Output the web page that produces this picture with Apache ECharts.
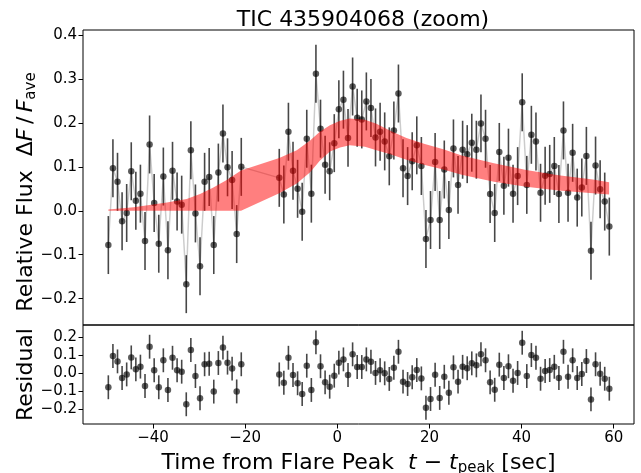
<!DOCTYPE html>
<html><head><meta charset="utf-8">
<script src="https://cdn.jsdelivr.net/npm/echarts@6/dist/echarts.min.js"></script>
<style>html,body{margin:0;padding:0;background:#fff}#c{width:641px;height:473px}</style>
</head><body><div id="c"></div>
<script>
// ---- data ----
const seg1Start = -49.7, seg2Start = -12.6, cadence = 0.995; // sample times (sec)
const flux1 = [-0.078, 0.097, 0.066, -0.024, -0.005, 0.090, 0.023, 0.039, -0.069, 0.151, 0.018, -0.075, 0.078, -0.090, 0.091, 0.021, 0.014, -0.167, 0.138, -0.006, -0.126, 0.066, 0.077, -0.078, 0.087, 0.176, 0.099, 0.070, -0.053, 0.100];
const flux2 = [0.075, 0.037, 0.180, 0.091, 0.050, -0.002, 0.164, 0.039, 0.312, 0.187, 0.105, 0.090, 0.154, 0.231, 0.253, 0.166, 0.283, 0.212, 0.208, 0.249, 0.234, 0.167, 0.180, 0.158, 0.124, 0.183, 0.267, 0.097, 0.079, 0.113, 0.149, 0.102, -0.064, -0.021, 0.111, -0.021, 0.094, 0.002, 0.142, 0.059, 0.139, 0.129, 0.155, 0.139, 0.199, 0.164, 0.038, -0.005, 0.134, 0.057, 0.121, 0.039, 0.079, 0.247, 0.059, 0.173, 0.158, 0.041, 0.080, 0.084, 0.102, 0.038, 0.183, 0.041, 0.132, 0.030, 0.053, 0.125, -0.091, 0.103, 0.049, 0.021, -0.036];
const resid1 = [-0.077, 0.096, 0.066, -0.026, -0.006, 0.088, 0.022, 0.037, -0.070, 0.147, 0.017, -0.077, 0.072, -0.092, 0.086, 0.017, 0.009, -0.171, 0.129, -0.015, -0.138, 0.050, 0.053, -0.101, 0.057, 0.142, 0.059, 0.026, -0.100, 0.050];
const resid2 = [-0.006, -0.052, 0.086, -0.009, -0.055, -0.114, 0.042, -0.092, 0.171, 0.039, -0.050, -0.074, -0.013, 0.059, 0.077, -0.009, 0.105, 0.035, 0.035, 0.077, 0.064, 0.002, 0.017, 0.000, -0.031, 0.031, 0.119, -0.046, -0.059, -0.022, 0.018, -0.028, -0.190, -0.142, -0.008, -0.136, -0.019, -0.107, 0.033, -0.046, 0.036, 0.028, 0.055, 0.044, 0.105, 0.072, -0.050, -0.091, 0.048, -0.026, 0.039, -0.041, 0.002, 0.169, -0.015, 0.101, 0.086, -0.030, 0.013, 0.018, 0.036, -0.026, 0.119, -0.019, 0.072, -0.026, -0.004, 0.068, -0.144, 0.050, -0.002, -0.030, -0.085];
const fluxErr = 0.066;
const bandT  = [-49.7, -44.2, -37.0, -32.7, -29.8, -26.9, -24.0, -20.9, -12.6, -8.8, -5.9, -3.8, -1.6, 0.6, 2.7, 6.0, 8.5, 11.5, 15.0, 19.0, 23.0, 27.0, 34.0, 41.0, 48.0, 55.5, 59.0];
const bandLo = [0.000, 0.000, 0.000, 0.000, 0.000, 0.000, 0.000, 0.000, 0.040, 0.062, 0.088, 0.114, 0.135, 0.144, 0.149, 0.146, 0.138, 0.129, 0.116, 0.104, 0.094, 0.082, 0.066, 0.055, 0.046, 0.040, 0.037];
const bandHi = [0.003, 0.008, 0.019, 0.027, 0.038, 0.053, 0.070, 0.092, 0.120, 0.138, 0.160, 0.180, 0.195, 0.205, 0.210, 0.207, 0.198, 0.182, 0.166, 0.152, 0.140, 0.126, 0.108, 0.093, 0.081, 0.071, 0.065];
const xTicks = [-40, -20, 0, 20, 40, 60];
const yTicksTop = [-0.2, -0.1, 0.0, 0.1, 0.2, 0.3, 0.4];
const yTicksRes = [-0.2, -0.1, 0.0, 0.1, 0.2];

// ---- build ----
const times1 = flux1.map((_, i) => seg1Start + i * cadence);
const times2 = flux2.map((_, i) => seg2Start + i * cadence);
const times = times1.concat(times2);
const flux = flux1.concat(flux2);
const resid = resid1.concat(resid2);
const fluxData = times.map((t, i) => [t, flux[i], fluxErr]);
const residData = times.map((t, i) => [t, resid[i], fluxErr]);

const FONT = 'DejaVu Sans';
const fmt = v => (v < -1e-9 ? '\u2212' : '') + (Math.abs(v) < 1e-9 ? 0 : Math.abs(v)).toFixed(1);
const fmtX = v => (v < 0 ? '\u2212' : '') + Math.abs(Math.round(v));

function errRender(params, api) {
  const x = api.value(0), y = api.value(1), e = api.value(2);
  const p1 = api.coord([x, y - e]), p2 = api.coord([x, y + e]);
  return {type: 'line', shape: {x1: p1[0], y1: p1[1], x2: p2[0], y2: p2[1]},
          style: {stroke: 'rgba(0,0,0,0.72)', lineWidth: 1.6}};
}
function bandRender(params, api) {
  const pts = [];
  for (let i = 0; i < bandT.length; i++) pts.push(api.coord([bandT[i], bandHi[i]]));
  for (let i = bandT.length - 1; i >= 0; i--) pts.push(api.coord([bandT[i], bandLo[i]]));
  return {type: 'polygon', shape: {points: pts}, style: {fill: 'rgba(255,0,0,0.5)'}};
}

const XMIN = -55.2, XMAX = 64.4;
const richName = {
  n: {fontSize: 22, fontFamily: FONT, color: '#000', verticalAlign: 'top', lineHeight: 24},
  i: {fontSize: 22, fontFamily: FONT, color: '#000', fontStyle: 'italic', verticalAlign: 'top', lineHeight: 24},
  s: {fontSize: 15, fontFamily: FONT, color: '#000', verticalAlign: 'bottom', lineHeight: 18},
  sp: {fontSize: 22, fontFamily: FONT, color: 'rgba(0,0,0,0)', verticalAlign: 'top', lineHeight: 24}
};
const tickLabel = {fontSize: 15, fontFamily: FONT, color: '#000'};

const chart = echarts.init(document.getElementById('c'), null, {renderer: 'canvas'});
chart.setOption({
  animation: false,
  backgroundColor: '#fff',
  title: {text: 'TIC 435904068 (zoom)', left: 358, top: 4, textAlign: 'center',
          textStyle: {fontSize: 22, fontWeight: 'normal', fontFamily: FONT, color: '#000'}},
  grid: [
    {left: 83, top: 30, right: 7, height: 295, outerBoundsMode: 'none', containLabel: false,
     show: true, borderColor: '#000', borderWidth: 1, backgroundColor: 'transparent'},
    {left: 83, top: 325, right: 7, height: 99, outerBoundsMode: 'none', containLabel: false,
     show: true, borderColor: '#000', borderWidth: 1, backgroundColor: 'transparent'}
  ],
  xAxis: [
    {type: 'value', gridIndex: 0, min: XMIN, max: XMAX, axisLine: {show: false, onZero: false},
     axisTick: {show: false}, axisLabel: {show: false}, splitLine: {show: false}},
    {type: 'value', gridIndex: 1, min: XMIN, max: XMAX, position: 'bottom', axisLine: {show: false, onZero: false},
     axisTick: {show: true, length: 4.5, customValues: xTicks, lineStyle: {color: '#000', width: 1}},
     axisLabel: {customValues: xTicks, formatter: fmtX, margin: 7, ...tickLabel},
     splitLine: {show: false},
     name: '{n|Time from Flare Peak  }{i|t}{n| \u2212 }{i|t}{s|peak}{n| [sec]}',
     nameLocation: 'middle', nameGap: 28, nameMoveOverlap: false, nameTextStyle: {rich: richName}}
  ],
  yAxis: [
    {type: 'value', gridIndex: 0, min: -0.260, max: 0.4116, position: 'left', axisLine: {show: false, onZero: false},
     axisTick: {show: true, length: 4.5, customValues: yTicksTop, lineStyle: {color: '#000', width: 1}},
     axisLabel: {customValues: yTicksTop, formatter: fmt, margin: 6, ...tickLabel},
     splitLine: {show: false},
     name: '{n|Relative Flux  \u0394}{i|F}{n|\u2009/\u2009}{i|F}{s|ave}{sp|\u2003.}',
     nameLocation: 'middle', nameGap: 44, nameRotate: 90, nameMoveOverlap: false,
     nameTextStyle: {rich: richName}},
    {type: 'value', gridIndex: 1, min: -0.280, max: 0.267, position: 'left', axisLine: {show: false, onZero: false},
     axisTick: {show: true, length: 4.5, customValues: yTicksRes, lineStyle: {color: '#000', width: 1}},
     axisLabel: {customValues: yTicksRes, formatter: fmt, margin: 6, ...tickLabel},
     splitLine: {show: false},
     name: '{n|Residual}', nameLocation: 'middle', nameGap: 44, nameRotate: 90, nameMoveOverlap: false,
     nameTextStyle: {rich: richName}}
  ],
  series: [
    {type: 'line', xAxisIndex: 0, yAxisIndex: 0, data: fluxData.map(d => [d[0], d[1]]),
     showSymbol: false, lineStyle: {color: 'rgba(0,0,0,0.2)', width: 1.5}, z: 1, silent: true},
    {type: 'custom', xAxisIndex: 0, yAxisIndex: 0, data: fluxData, renderItem: errRender, z: 2, silent: true},
    {type: 'scatter', xAxisIndex: 0, yAxisIndex: 0, data: fluxData.map(d => [d[0], d[1]]),
     symbolSize: 6.5, itemStyle: {color: 'rgba(0,0,0,0.8)'}, z: 3, silent: true},
    {type: 'custom', xAxisIndex: 0, yAxisIndex: 0, data: [[bandT[0], bandLo[0]]], renderItem: bandRender, z: 4, silent: true},
    {type: 'custom', xAxisIndex: 1, yAxisIndex: 1, data: residData, renderItem: errRender, z: 2, silent: true},
    {type: 'scatter', xAxisIndex: 1, yAxisIndex: 1, data: residData.map(d => [d[0], d[1]]),
     symbolSize: 6.5, itemStyle: {color: 'rgba(0,0,0,0.8)'}, z: 3, silent: true}
  ]
});
</script>
</body></html>
